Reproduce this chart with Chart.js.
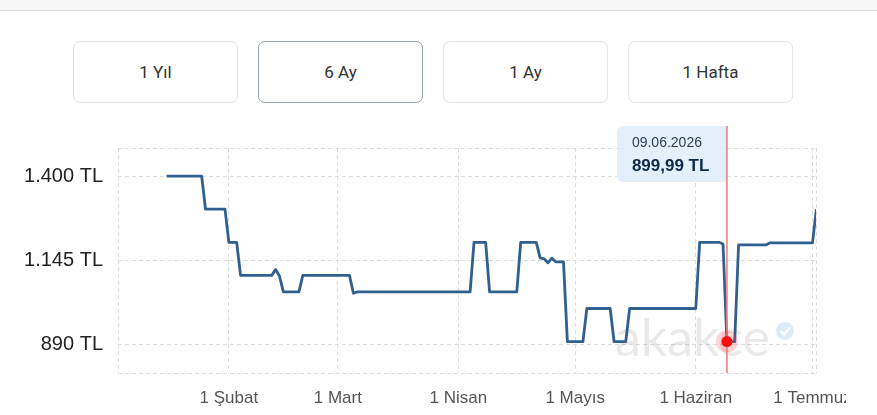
<!DOCTYPE html>
<html>
<head>
<meta charset="utf-8">
<script src="https://cdn.jsdelivr.net/npm/chart.js@4.4.1/dist/chart.umd.min.js"></script>
<style>
html,body{margin:0;padding:0;background:#fff;width:877px;height:415px;overflow:hidden;font-family:"Liberation Sans",Arial,sans-serif;}
#topbar{position:absolute;left:0;top:0;width:877px;height:10px;background:#f7f7f7;border-bottom:1px solid #e3e3e3;}
.btn{position:absolute;top:41px;width:165px;height:62px;box-sizing:border-box;border:1px solid #e3e3e3;border-radius:7px;background:#fff;
  display:flex;align-items:center;justify-content:center;font-family:Roboto,"Liberation Sans",Arial,sans-serif;font-size:17px;color:#333;}
.btn.sel{border-color:#9aa4ab;}
#wrap{position:absolute;left:0;top:110px;width:846px;height:305px;overflow:hidden;}
canvas{display:block;}
</style>
</head>
<body>
<div id="topbar"></div>
<div class="btn" style="left:73px">1 Yıl</div>
<div class="btn sel" style="left:258px">6 Ay</div>
<div class="btn" style="left:443px">1 Ay</div>
<div class="btn" style="left:628px">1 Hafta</div>
<div id="wrap"><canvas id="c" width="877" height="305"></canvas></div>
<script>
// ---- data ----
const dates = ['2026-01-16','2026-01-25','2026-01-26','2026-01-31','2026-02-01','2026-02-03','2026-02-04',
  '2026-02-12','2026-02-13','2026-02-14','2026-02-15','2026-02-19','2026-02-20','2026-03-04','2026-03-05','2026-03-06',
  '2026-04-04','2026-04-05','2026-04-08','2026-04-09','2026-04-16','2026-04-17','2026-04-21','2026-04-22','2026-04-23',
  '2026-04-24','2026-04-25','2026-04-26','2026-04-28','2026-04-29','2026-05-03','2026-05-04','2026-05-10','2026-05-11',
  '2026-05-14','2026-05-15','2026-06-01','2026-06-02','2026-06-07','2026-06-08','2026-06-09','2026-06-11','2026-06-12',
  '2026-06-19','2026-06-20','2026-07-01','2026-07-02'];
const prices = [1399.99,1399.99,1299.99,1299.99,1199.99,1199.99,1099.99,
  1099.99,1118,1098,1049.99,1049.99,1099.99,1099.99,1046,1049.99,
  1049.99,1199.99,1199.99,1049.99,1049.99,1199.99,1199.99,1153,1150,
  1138,1152,1141,1141,899.99,899.99,999.99,999.99,899.99,
  899.99,999.99,999.99,1199.99,1199.99,1195,899.99,899.99,1192,
  1192,1198,1198,1299.99];
const monthTicks = ['2026-02-01','2026-03-01','2026-04-01','2026-05-01','2026-06-01','2026-07-01'];
const monthLabels = ['1 Şubat','1 Mart','1 Nisan','1 Mayıs','1 Haziran','1 Temmuz'];
const priceTicks = [890, 1145, 1400];
const highlightDate = '2026-06-09';
const xRange = [2.5, 181.9];      // days since 1 Jan 2026
const yRange = [805, 1485];

// ---- helpers ----
const dayOf = s => { const [y,m,d] = s.split('-').map(Number); return (Date.UTC(y,m-1,d) - Date.UTC(2026,0,1)) / 86400000; };
const fmtInt = v => String(Math.round(v)).replace(/\B(?=(\d{3})+(?!\d))/g, '.');
const fmtPrice = v => { const [i,f] = v.toFixed(2).split('.'); return fmtInt(Number(i)) + ',' + f + ' TL'; };
const fmtDate = s => { const [y,m,d] = s.split('-'); return d + '.' + m + '.' + y; };

const points = dates.map((d,i) => ({x: dayOf(d), y: prices[i]}));
const tickDays = monthTicks.map(dayOf);
const hiIndex = dates.indexOf(highlightDate);
const FAM = '"Liberation Sans", Arial, sans-serif';

const overlay = {
  id: 'overlay',
  beforeDatasetsDraw(chart) {
    const ctx = chart.ctx;
    ctx.save();
    // watermark
    ctx.font = '400 52px Lato, "Liberation Sans", sans-serif';
    ctx.fillStyle = 'rgba(0,0,0,0.085)';
    ctx.textBaseline = 'alphabetic';
    ctx.fillText('akakce', 615, 246);
    ctx.beginPath();
    ctx.arc(785, 221, 9, 0, Math.PI*2);
    ctx.fillStyle = 'rgba(90,150,220,0.2)';
    ctx.fill();
    ctx.strokeStyle = 'rgba(255,255,255,0.95)';
    ctx.lineWidth = 2;
    ctx.beginPath(); ctx.moveTo(780.5,221); ctx.lineTo(784,224.5); ctx.lineTo(790,217.5); ctx.stroke();
    ctx.restore();
  },
  afterDatasetsDraw(chart) {
    const ctx = chart.ctx;
    const pt = chart.getDatasetMeta(0).data[hiIndex];
    if (!pt) return;
    const px = pt.x, py = pt.y;
    const area = chart.chartArea;
    ctx.save();
    // tooltip box
    const bx = px - 110, by = 16, bw = 110, bh = 56;
    ctx.fillStyle = 'rgba(222,236,250,0.85)';
    ctx.beginPath();
    ctx.roundRect(bx, by, bw, bh, [6,0,0,6]);
    ctx.fill();
    ctx.fillStyle = '#2c3e50';
    ctx.font = '14px ' + FAM;
    ctx.textAlign = 'left';
    ctx.textBaseline = 'alphabetic';
    ctx.fillText(fmtDate(highlightDate), bx + 15, 37);
    ctx.fillStyle = '#0d2a4a';
    ctx.font = 'bold 17px ' + FAM;
    ctx.fillText(fmtPrice(prices[hiIndex]), bx + 15, 61);
    // vertical line
    ctx.strokeStyle = 'rgba(238,130,130,0.85)';
    ctx.lineWidth = 2;
    ctx.beginPath(); ctx.moveTo(px, by); ctx.lineTo(px, area.bottom); ctx.stroke();
    // dot
    ctx.fillStyle = 'rgba(255,60,60,0.22)';
    ctx.beginPath(); ctx.arc(px, py, 11, 0, Math.PI*2); ctx.fill();
    ctx.fillStyle = '#ff0a0a';
    ctx.beginPath(); ctx.arc(px, py, 5.5, 0, Math.PI*2); ctx.fill();
    ctx.restore();
  }
};

new Chart(document.getElementById('c'), {
  type: 'line',
  data: { datasets: [{ data: points, borderColor: '#30608f', borderWidth: 2.8, pointRadius: 0, tension: 0, fill: false, borderJoinStyle: 'round' }] },
  options: {
    responsive: false,
    animation: false,
    layout: { padding: { top: 38, right: 61, left: 0, bottom: 0 } },
    plugins: { legend: { display: false }, tooltip: { enabled: false } },
    scales: {
      x: {
        type: 'linear', min: xRange[0], max: xRange[1],
        afterBuildTicks: s => { s.ticks = [xRange[0], ...tickDays, xRange[1]].map(v => ({value: v})); },
        afterFit: s => { s.height = 42; },
        ticks: { autoSkip: false, maxRotation: 0, padding: 15, color: '#555', font: { size: 17, family: FAM },
          callback: v => { const i = tickDays.indexOf(v); return i >= 0 ? monthLabels[i] : ''; } },
        grid: { color: '#dcdcdc', drawTicks: false, lineWidth: 1 },
        border: { display: false, dash: [4,3] }
      },
      y: {
        min: yRange[0], max: yRange[1],
        afterBuildTicks: s => { s.ticks = [yRange[0], ...priceTicks, yRange[1]].map(v => ({value: v})); },
        afterFit: s => { s.width = 118; },
        ticks: { padding: 15, color: '#222', font: { size: 20, family: FAM },
          callback: v => priceTicks.includes(v) ? fmtInt(v) + ' TL' : '' },
        grid: { color: '#dcdcdc', drawTicks: false, lineWidth: 1 },
        border: { display: false, dash: [4,3] }
      }
    }
  },
  plugins: [overlay]
});
</script>
</body>
</html>
